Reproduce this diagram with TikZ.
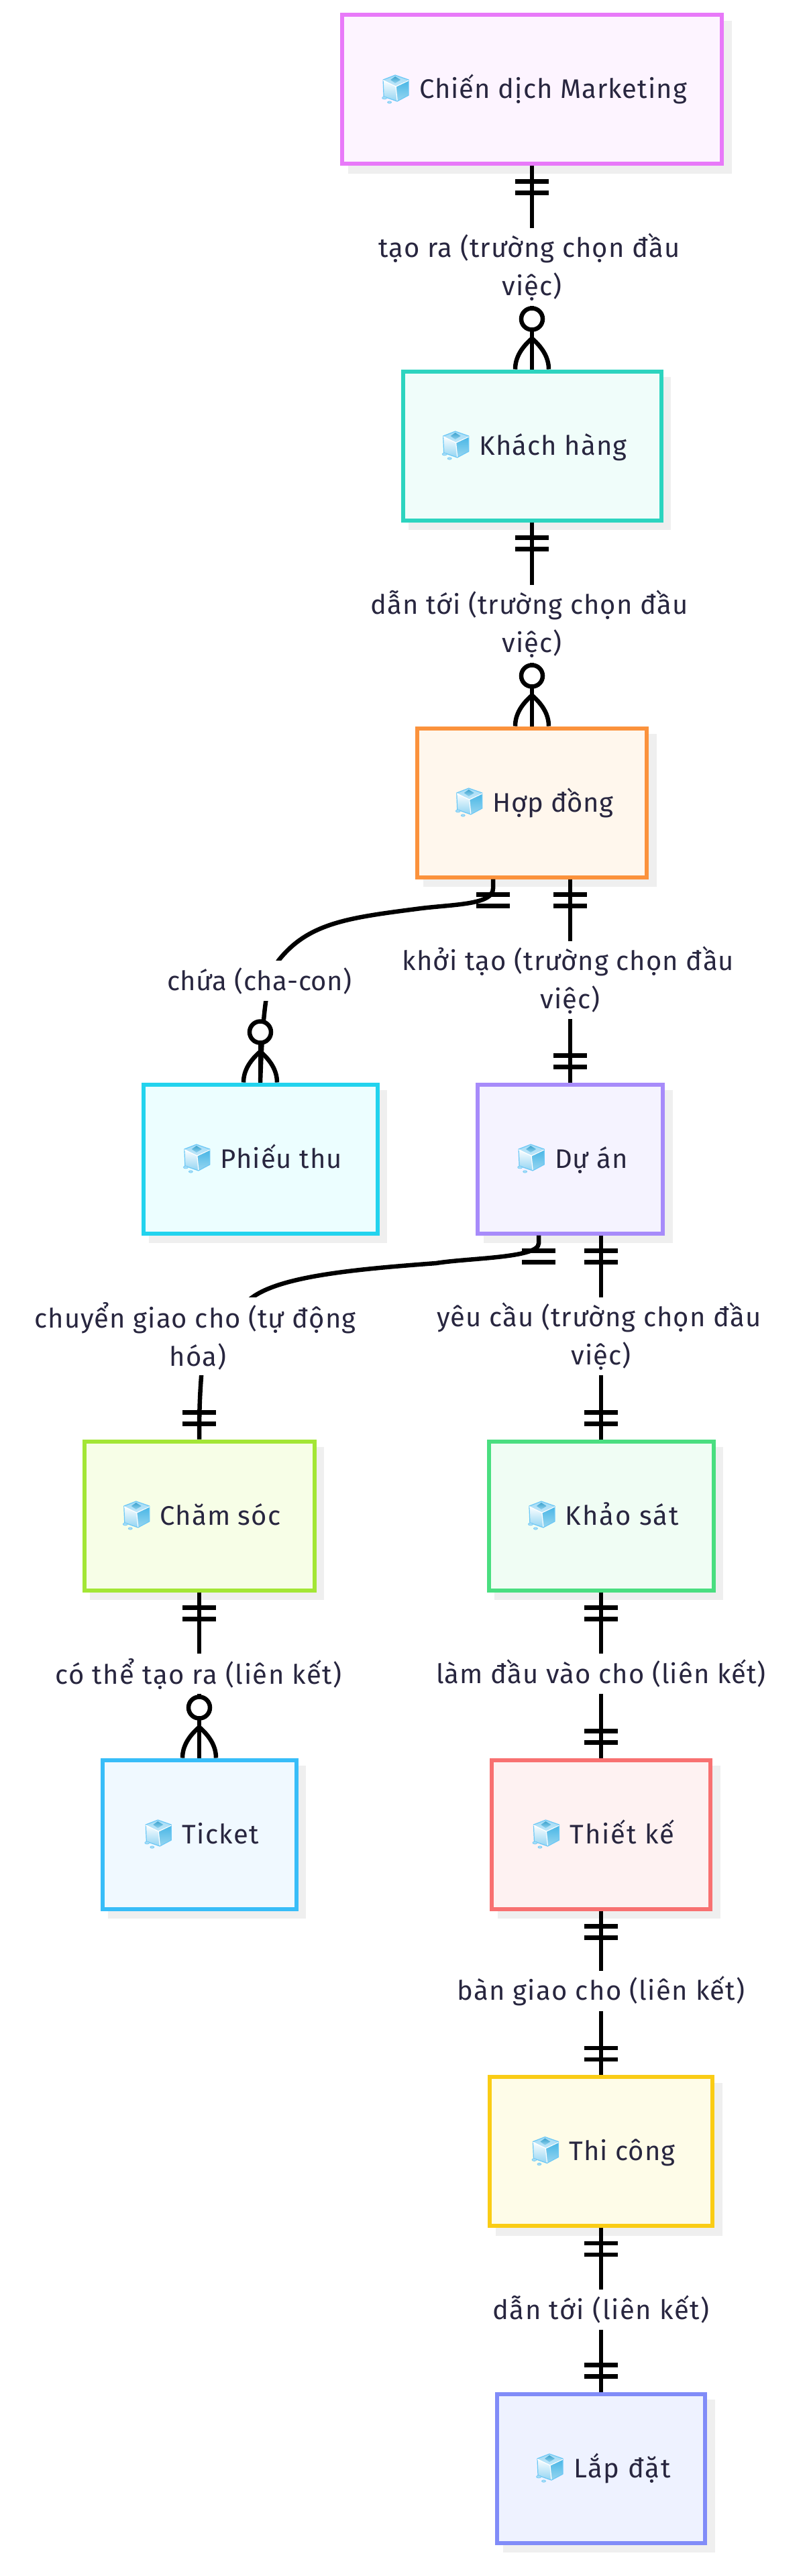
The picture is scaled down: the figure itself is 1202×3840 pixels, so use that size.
\documentclass[tikz,border=0pt]{standalone}
\usepackage{fontspec}
\setmainfont{Fira Sans}[LetterSpace=2.6]
\usetikzlibrary{shadows}
\definecolor{ink}{HTML}{28263F}
\definecolor{shgray}{HTML}{EFEFEF}
\definecolor{sA}{HTML}{E879F9}\definecolor{fA}{HTML}{FDF4FF}
\definecolor{sB}{HTML}{2DD4BF}\definecolor{fB}{HTML}{F0FDFA}
\definecolor{sC}{HTML}{FB923C}\definecolor{fC}{HTML}{FFF7ED}
\definecolor{sD}{HTML}{22D3EE}\definecolor{fD}{HTML}{ECFEFF}
\definecolor{sE}{HTML}{A78BFA}\definecolor{fE}{HTML}{F5F3FF}
\definecolor{sF}{HTML}{A3E635}\definecolor{fF}{HTML}{F7FEE7}
\definecolor{sG}{HTML}{4ADE80}\definecolor{fG}{HTML}{F0FDF4}
\definecolor{sH}{HTML}{38BDF8}\definecolor{fH}{HTML}{F0F9FF}
\definecolor{sI}{HTML}{F87171}\definecolor{fI}{HTML}{FEF2F2}
\definecolor{sJ}{HTML}{FACC15}\definecolor{fJ}{HTML}{FEFCE8}
\definecolor{sK}{HTML}{818CF8}\definecolor{fK}{HTML}{EEF2FF}
\definecolor{iceedge}{HTML}{6CC8F6}
\definecolor{icetop}{HTML}{A5DCF6}
\definecolor{iceright}{HTML}{45B5E5}
\newcommand{\spc}[1]{\addfontfeature{LetterSpace=#1}}
\tikzset{
  x=1pt,y=-1pt,
  ent/.style n args={3}{draw=#1,fill=#2,line width=6pt,minimum width=#3,minimum height=222pt,
    inner sep=0pt,text=ink,font=\fontsize{40}{46}\selectfont,text height=37pt,text depth=10pt,
    general shadow={draw=shgray,fill=shgray,shadow xshift=11.5pt,shadow yshift=-11.5pt}},
  lab/.style={fill=white,text=ink,align=center,inner xsep=2pt,inner ysep=0pt,
    font=\fontsize{40}{57}\selectfont},
  lab1/.style={lab,minimum height=60pt},
  lab2/.style={lab,minimum height=116pt},
  conn/.style={draw=black,line width=6.5pt},
  onebelow/.pic={\draw[conn] (-25,23) -- (25,23) (-25,40) -- (25,40);},
  oneabove/.pic={\draw[conn] (-25,-23) -- (25,-23) (-25,-40) -- (25,-40);},
  manyabove/.pic={
    \draw[conn] (-25,0) .. controls (-25,-18) and (-15,-33) .. (0,-46)
       .. controls (15,-33) and (25,-18) .. (25,0);
    \draw[conn] (0,0) -- (0,-59);
    \draw[conn,fill=white] (0,-75) circle[radius=16];},
  icecube/.pic={
    \shade[top color=icetop,bottom color=icetop!70!white,draw=none] (1,-28) -- (19,-35) -- (39,-28) -- (20,-18) -- cycle;
    \shade[top color=iceright!90!black,bottom color=iceright!60!white,draw=none] (12,-28) -- (19,-33) -- (27,-28) -- (19,-23) -- cycle;
    \shade[top color=white,bottom color=icetop!80!iceright,draw=none] (1,-28) -- (20,-18) -- (22,4) -- (2,-3) -- cycle;
    \shade[top color=iceright,bottom color=iceright!55!white,draw=none] (39,-28) -- (20,-18) -- (22,4) -- (39,-5) -- cycle;
    \draw[iceedge,line width=1.2pt,line join=round] (1,-28) -- (19,-35) -- (39,-28) -- (39,-5) -- (22,4) -- (2,-3) -- cycle;
    \draw[white,line width=1.2pt] (1,-27) -- (20,-18) -- (39,-27) (20,-18) -- (22,3);
    \fill[icetop,draw=iceedge,line width=.6pt] (3,-1) ellipse[x radius=3.5,y radius=2];
    \fill[icetop,draw=iceedge,line width=.6pt] (10.5,5.5) ellipse[x radius=3,y radius=1.7];}
}
\newcommand{\ent}[7]{%
  \node[ent={#5}{#6}{#4pt}] (#1) at (#2,#3) {\hspace{63pt}#7};
  \pic at ([xshift=8pt]#1.text) {icecube};
}
\begin{document}
\begin{tikzpicture}
\useasboundingbox (0,0) rectangle (1202,3840);
\fill[white] (0,0) rectangle (1202,3840);
\ent{camp}{793}{133.5}{566}{sA}{fA}{Chiến dịch Marketing}
\ent{cust}{793}{664.5}{385}{sB}{fB}{Khách hàng}
\ent{cont}{793}{1196.5}{342}{sC}{fC}{\spc{1}Hợp đồng}
\ent{rece}{388}{1727.5}{349}{sD}{fD}{Phiếu thu}
\ent{proj}{850}{1727.5}{276}{sE}{fE}{Dự án}
\ent{care}{297}{2259.5}{343}{sF}{fF}{Chăm sóc}
\ent{surv}{896}{2259.5}{335}{sG}{fG}{\spc{5}Khảo sát}
\ent{tick}{297}{2734.5}{289}{sH}{fH}{\spc{3.5}Ticket}
\ent{desi}{896}{2734.5}{326}{sI}{fI}{\spc{5}Thiết kế}
\ent{buil}{896}{3207}{332}{sJ}{fJ}{Thi công}
\ent{inst}{896}{3679.5}{310}{sK}{fK}{\spc{4.5}Lắp đặt}
% connector ends that sit off the centre of a box
\coordinate (contL) at ([xshift=-58pt]cont.south);
\coordinate (contR) at ([xshift=57pt]cont.south);
\coordinate (projL) at ([xshift=-47pt]proj.south);
\coordinate (projR) at ([xshift=46pt]proj.south);
% connectors
\draw[conn] (camp.south) -- (cust.north);
\draw[conn] (cust.south) -- (cont.north);
\draw[conn] (contL) -- ++(0,14) .. controls +(0,24) and +(50,-6) .. (628,1354)
   .. controls (520,1368) and (460,1375) .. (415,1432)
   .. controls (400,1455) and (392,1490) .. (rece.north);
\draw[conn] (contR) -- (proj.north);
\draw[conn] (projL) -- ++(0,12) .. controls +(0,22) and +(50,-8) .. (650,1883)
   .. controls (530,1892) and (420,1902) .. (376,1934)
   .. controls (340,1962) and (302,2000) .. (300,2052)
   .. controls (298,2080) and (297,2100) .. (care.north);
\draw[conn] (projR) -- (surv.north);
\draw[conn] (care.south) -- (tick.north);
\draw[conn] (surv.south) -- (desi.north);
\draw[conn] (desi.south) -- (buil.north);
\draw[conn] (buil.south) -- (inst.north);
% cardinality marks
\pic at (camp.south) {onebelow};
\pic at (cust.north) {manyabove};
\pic at (cust.south) {onebelow};
\pic at (cont.north) {manyabove};
\pic at (contL) {onebelow};
\pic at (rece.north) {manyabove};
\pic at (contR) {onebelow};
\pic at (proj.north) {oneabove};
\pic at (projL) {onebelow};
\pic at (care.north) {oneabove};
\pic at (projR) {onebelow};
\pic at (surv.north) {oneabove};
\pic at (care.south) {onebelow};
\pic at (tick.north) {manyabove};
\pic at (surv.south) {onebelow};
\pic at (desi.north) {oneabove};
\pic at (desi.south) {onebelow};
\pic at (buil.north) {oneabove};
\pic at (buil.south) {onebelow};
\pic at (inst.north) {oneabove};
% labels
\node[lab2] (l1) at (793,398) {tạo ra (trường chọn đầu\kern8pt\\việc)};
\node[lab2] (l2) at (793,930) {dẫn tới (trường chọn đầu\kern8pt\\việc)};
\node[lab1] (l3) at (387,1462) {\spc{1.2}chứa (cha-con)};
\node[lab2] (l4) at (850,1461) {khởi tạo (trường chọn đầu\kern6pt\\việc)};
\node[lab2] (l5) at (295,1992) {chuyển giao cho (tự động\kern8pt\\hóa)};
\node[lab2] (l6) at (896,1992) {yêu cầu (trường chọn đầu\kern6pt\\việc)};
\node[lab1] (l7) at (296,2495) {\spc{3.8}có thể tạo ra (liên kết)};
\node[lab1] (l8) at (896,2495) {làm đầu vào cho (liên kết)};
\node[lab1] (l9) at (896,2968) {\spc{3.4}bàn giao cho (liên kết)};
\node[lab1] (l10) at (896,3443) {\spc{4.2}dẫn tới (liên kết)};
\end{tikzpicture}
\end{document}
